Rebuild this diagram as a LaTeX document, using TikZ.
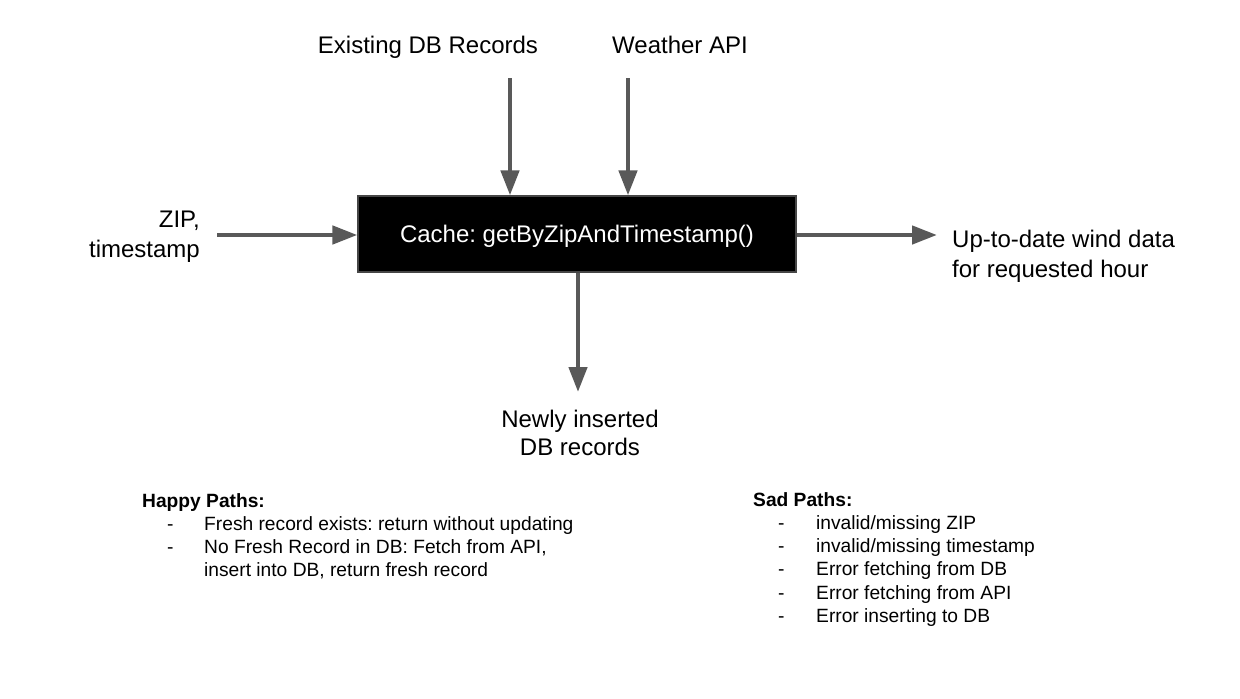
\documentclass[tikz,border=0pt]{standalone}
\usepackage{fontspec}
\setmainfont{Liberation Sans}
\usetikzlibrary{arrows.meta,positioning}
\definecolor{flowgray}{RGB}{89,89,89}
\definecolor{boxedge}{RGB}{70,70,70}
\frenchspacing

\begin{document}
\begin{tikzpicture}[
    x=1pt, y=-1pt,
    font=\fontsize{24}{30}\selectfont,
    cachebox/.style={draw=boxedge, line width=1.2pt, fill=black, text=white, minimum width=438pt, minimum height=76pt, inner sep=0pt, text depth=0pt},
    lbl/.style={inner sep=0pt, align=center},
    arrow/.style={-{Triangle[length=25pt, width=18pt]}, line width=4.5pt, draw=flowgray},
    pathlist/.style={inner sep=0pt, anchor=base west, font=\fontsize{19.2}{23.3}\selectfont}
]
\useasboundingbox (0,0) rectangle (1240,699);

\node[cachebox] (cache) at (577,234) {Cache: getByZipAndTimestamp()};

% inputs and outputs
\node[lbl, anchor=base] (dbrec) at (428,53) {Existing DB Records};
\node[lbl, anchor=base] (weather) at (680,53) {Weather API};
\node[lbl, align=right, anchor=north east] (zipts) at (200,211) {ZIP,\\timestamp};
\node[lbl, align=left, anchor=north west] (wind) at (952,230) {Up-to-date wind data\\for requested hour};
\node[lbl, anchor=north] (newrec) at (580,410) {Newly inserted\\[-2pt]DB records};

\coordinate (dbstart) at (510,78);
\coordinate (apistart) at (628,78);
\coordinate (zipstart) at (217,235);
\coordinate (windend) at (937,235);
\coordinate (newend) at (578,392);

\draw[arrow] (dbstart) -- (dbstart |- cache.north);
\draw[arrow] (apistart) -- (apistart |- cache.north);
\draw[arrow] (zipstart) -- (zipstart -| cache.west);
\draw[arrow] (cache.east |- windend) -- (windend);
\draw[arrow] (newend |- cache.south) -- (newend);

% happy and sad paths
\node[pathlist] (happy) at (142,507) {\begin{tabular}[t]{@{}p{62pt}@{}l@{}}
\multicolumn{2}{@{}l}{\textbf{Happy Paths:}}\\
\hspace*{25pt}- & Fresh record exists: return without updating\\
\hspace*{25pt}- & No Fresh Record in DB: Fetch from API,\\
 & insert into DB, return fresh record
\end{tabular}};
\node[pathlist] (sad) at (753,506) {\begin{tabular}[t]{@{}p{63pt}@{}l@{}}
\multicolumn{2}{@{}l}{\textbf{Sad Paths:}}\\
\hspace*{25pt}- & invalid/missing ZIP\\
\hspace*{25pt}- & invalid/missing timestamp\\
\hspace*{25pt}- & Error fetching from DB\\
\hspace*{25pt}- & Error fetching from API\\
\hspace*{25pt}- & Error inserting to DB
\end{tabular}};
\end{tikzpicture}
\end{document}
